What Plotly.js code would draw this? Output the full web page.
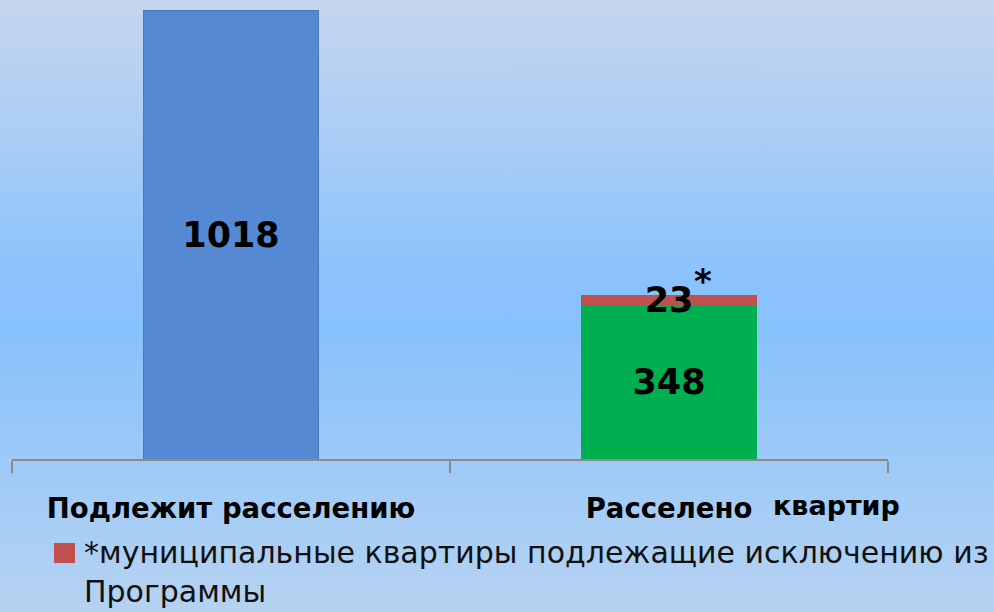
<!DOCTYPE html>
<html>
<head>
<meta charset="utf-8">
<script src="https://cdn.plot.ly/plotly-3.0.1.min.js"></script>
<style>
  html, body { margin: 0; padding: 0; }
  #chart {
    width: 994px; height: 612px;
    background: linear-gradient(to bottom, #c5d5ed 0%, #b0cff4 18%, #8ac3fc 45%, #88c2fc 55%, #a0cbf7 78%, #b6d2f1 100%);
  }
</style>
</head>
<body>
<div id="chart"></div>
<script>
// ---- data ----
var categories = ["Подлежит расселению", "Расселено"];
var toRelocate = [1018];          // blue bar (category 0)
var relocated = [348];            // green bar (category 1)
var excluded = [23];              // red bar stacked on category 1
var extraAxisWord = "квартир";
var legendLines = ["*муниципальные квартиры подлежащие исключению из", "Программы"];

var FONT = "DejaVu Sans";
var labelFont = {family: FONT, size: 35, color: "#000000", weight: 700};

var traces = [
  {
    type: "bar", x: [categories[0]], y: toRelocate,
    marker: {color: "#5589d3", line: {color: "#4a78b8", width: 1}},
    text: toRelocate.map(String), textposition: "inside", insidetextanchor: "middle",
    textangle: 0, textfont: labelFont, hoverinfo: "none", showlegend: false
  },
  {
    type: "bar", x: [categories[1]], y: relocated,
    marker: {color: "#00b050"},
    text: relocated.map(String), textposition: "inside", insidetextanchor: "middle",
    textangle: 0, textfont: labelFont, hoverinfo: "none", showlegend: false
  },
  {
    type: "bar", x: [categories[1]], y: excluded,
    marker: {color: "#c0504d"},
    text: excluded.map(String), textposition: "inside", insidetextanchor: "middle",
    textangle: 0, textfont: labelFont, hoverinfo: "none", showlegend: false
  }
];

// plot area in pixels: x 12..888, y 10..459
var L = 12, R = 888, T = 10, B = 459;
function px2paperX(px) { return (px - L) / (R - L); }
function px2paperY(py) { return (B - py) / (B - T); }

var layout = {
  width: 994, height: 612,
  margin: {l: L, r: 994 - R, t: T, b: 612 - B, pad: 0},
  paper_bgcolor: "rgba(0,0,0,0)",
  plot_bgcolor: "rgba(0,0,0,0)",
  barmode: "stack",
  bargap: 0.6,
  uniformtext: {mode: "show", minsize: 35},
  showlegend: false,
  xaxis: {
    type: "category", range: [-0.5, 1.5],
    tickson: "boundaries", ticks: "outside", ticklen: 12, tickwidth: 1.5, tickcolor: "#8a8a8a",
    showline: true, linecolor: "#8a8a8a", linewidth: 1.5,
    showgrid: false, zeroline: false,
    tickfont: {family: FONT, size: 27.5, color: "#000000", weight: 700},
    ticklabelstandoff: 24
  },
  yaxis: {visible: false, range: [0, toRelocate[0]], fixedrange: true},
  shapes: [
    {type: "rect", xref: "paper", yref: "paper",
     x0: px2paperX(54), x1: px2paperX(75), y0: px2paperY(563), y1: px2paperY(543),
     fillcolor: "#c0504d", line: {width: 0}}
  ],
  annotations: [
    {x: categories[1], y: relocated[0] + excluded[0], xref: "x", yref: "y",
     text: "*", showarrow: false, xshift: 34, yshift: 14,
     font: {family: FONT, size: 34, color: "#000000", weight: 700}},
    {x: categories[1], xref: "x", xshift: 167, y: px2paperY(505), yref: "paper",
     text: extraAxisWord, showarrow: false, xanchor: "center", yanchor: "middle",
     font: {family: FONT, size: 27, color: "#000000", weight: 700}},
    {x: px2paperX(82), y: px2paperY(552), xref: "paper", yref: "paper",
     text: legendLines[0], showarrow: false, xanchor: "left", yanchor: "middle",
     font: {family: FONT, size: 30, color: "#111111"}},
    {x: px2paperX(82), y: px2paperY(611), xref: "paper", yref: "paper",
     text: legendLines[1], showarrow: false, xanchor: "left", yanchor: "bottom",
     font: {family: FONT, size: 30, color: "#111111"}}
  ]
};

Plotly.newPlot("chart", traces, layout, {displayModeBar: false, staticPlot: true});
</script>
</body>
</html>
